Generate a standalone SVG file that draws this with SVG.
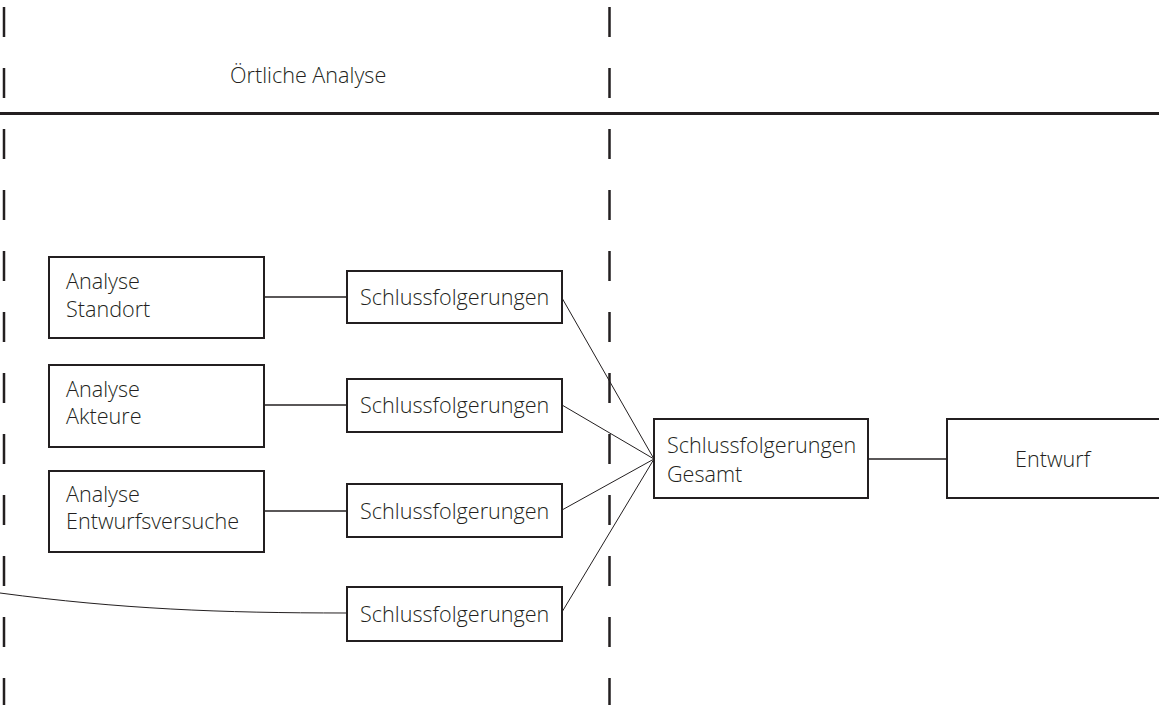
<svg xmlns="http://www.w3.org/2000/svg" width="1159" height="705" viewBox="0 0 1159 705">
<style>
.box{fill:#fff;stroke:#231f20;stroke-width:2}
.t{font-family:"Open Sans","Noto Sans","Liberation Sans",sans-serif;font-size:21.6px;font-weight:300;fill:#231f20}
.dash{stroke:#231f20;stroke-width:2.5;stroke-dasharray:30 31;fill:none}
.c{stroke:#231f20;stroke-width:1.6;fill:none}
.d{stroke:#231f20;stroke-width:1;fill:none}
</style>
<rect width="1159" height="705" fill="#fff"/>
<g id="frame">
<line class="dash" x1="4" y1="7" x2="4" y2="705"/>
<line class="dash" x1="609.5" y1="7" x2="609.5" y2="705"/>
<line x1="0" y1="113.5" x2="1159" y2="113.5" stroke="#231f20" stroke-width="3"/>
<text class="t" x="230" y="83">Örtliche Analyse</text>
</g>
<g id="connectors">
<line class="c" x1="264" y1="297" x2="347" y2="297"/>
<line class="c" x1="264" y1="405" x2="347" y2="405"/>
<line class="c" x1="264" y1="511" x2="347" y2="511"/>
<path class="d" d="M0,593 C120,609 220,613 347,613"/>
<line class="d" x1="562" y1="298" x2="654" y2="459"/>
<line class="d" x1="562" y1="405" x2="654" y2="459"/>
<line class="d" x1="562" y1="510" x2="654" y2="459"/>
<line class="d" x1="562" y1="612" x2="654" y2="459"/>
<line class="c" x1="868" y1="459" x2="947" y2="459"/>
</g>
<g id="analyse-standort">
<rect class="box" x="49" y="257" width="215" height="81"/>
<text class="t" x="66" y="289">Analyse</text>
<text class="t" x="66" y="317">Standort</text>
</g>
<g id="analyse-akteure">
<rect class="box" x="49" y="365" width="215" height="82"/>
<text class="t" x="66" y="397">Analyse</text>
<text class="t" x="66" y="424">Akteure</text>
</g>
<g id="analyse-entwurfsversuche">
<rect class="box" x="49" y="471" width="215" height="81"/>
<text class="t" x="66" y="502">Analyse</text>
<text class="t" x="66" y="529">Entwurfsversuche</text>
</g>
<g id="schluss-1">
<rect class="box" x="347" y="271" width="215" height="52"/>
<text class="t" x="360" y="305">Schlussfolgerungen</text>
</g>
<g id="schluss-2">
<rect class="box" x="347" y="379" width="215" height="53"/>
<text class="t" x="360" y="413">Schlussfolgerungen</text>
</g>
<g id="schluss-3">
<rect class="box" x="347" y="484" width="215" height="53"/>
<text class="t" x="360" y="519">Schlussfolgerungen</text>
</g>
<g id="schluss-4">
<rect class="box" x="347" y="587" width="215" height="54"/>
<text class="t" x="360" y="622">Schlussfolgerungen</text>
</g>
<g id="schluss-gesamt">
<rect class="box" x="654" y="419" width="214" height="79"/>
<text class="t" x="667" y="453">Schlussfolgerungen</text>
<text class="t" x="667" y="482">Gesamt</text>
</g>
<g id="entwurf">
<rect class="box" x="947" y="419" width="220" height="79"/>
<text class="t" x="1015" y="467">Entwurf</text>
</g>
</svg>
